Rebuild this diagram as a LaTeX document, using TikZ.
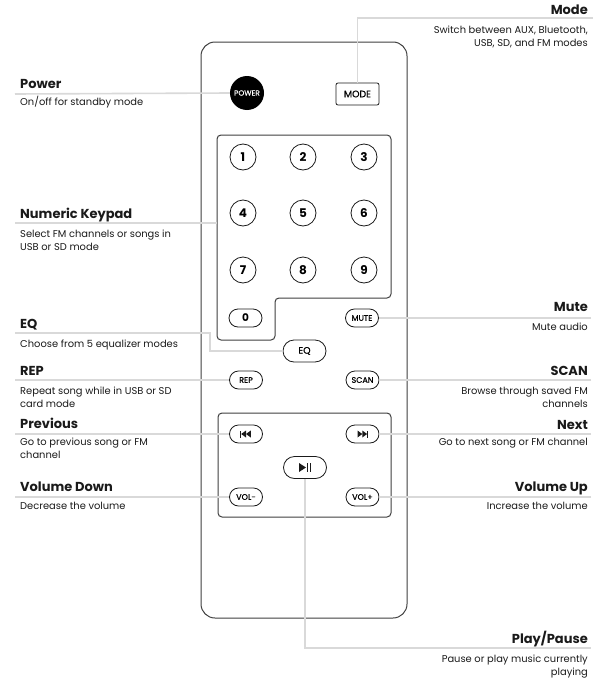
\documentclass[tikz,border=0pt]{standalone}
\usepackage{fontspec}
\setmainfont{Poppins}
\newfontfamily\keyfont[FakeBold=.6]{Poppins}
\usetikzlibrary{shapes.misc}
\usepackage{xcolor}
\definecolor{Ink}{HTML}{1A1A1A}
\definecolor{Leader}{HTML}{D9D9D9}
\definecolor{Shell}{HTML}{404040}

\begin{document}
\begin{tikzpicture}[x=1pt,y=-1pt,
    leader/.style={draw=Leader,line width=1.6pt},
    shell/.style={draw=Shell,line width=1pt,rounded corners=14pt},
    panel/.style={draw=Shell,line width=1pt,rounded corners=4pt},
    roundkey/.style={circle,draw=Ink,line width=.8pt,fill=white,minimum size=26pt,inner sep=0pt,font=\fontsize{12}{12}\selectfont\bfseries},
    pillkey/.style={rounded rectangle,draw=Ink,line width=.8pt,fill=white,minimum width=33pt,minimum height=18pt,inner sep=0pt,font=\fontsize{8}{8}\keyfont},
    titletext/.style={inner sep=0pt,font=\fontsize{13}{14}\selectfont\bfseries,text=Ink},
    desctext/.style={inner sep=0pt,font=\fontsize{9.9}{13}\selectfont,text=Ink},
    leftside/.style={anchor=north west,align=left},
    rightside/.style={anchor=north east,align=right}]
    \useasboundingbox (0,0) rectangle (593,680);
    \fill[white] (0,0) rectangle (593,680);

    \draw[shell] (201,42) rectangle (407,618);
    \draw[panel] (217,135) -- (391,135) -- (391,298) -- (275,298) -- (275,340) -- (217,340) -- cycle;
    \node[panel,minimum width=173pt,minimum height=104pt,inner sep=0pt] (transport) at (304.5,465) {};

    \node[circle,fill=black,text=white,minimum size=34pt,inner sep=0pt,font=\fontsize{7.4}{7.4}\keyfont] (power) at (247,93) {POWER};
    \node[draw=Ink,line width=.8pt,rounded corners=2pt,minimum width=43pt,minimum height=22pt,inner sep=0pt,font=\fontsize{9.4}{9.4}\keyfont] (mode) at (357.5,94) {MODE};

    \node[roundkey] (key1) at (243,157) {1};
    \node[roundkey] (key2) at (303,157) {2};
    \node[roundkey] (key3) at (364,157) {3};
    \node[roundkey] (key4) at (243,213) {4};
    \node[roundkey] (key5) at (303,213) {5};
    \node[roundkey] (key6) at (364,213) {6};
    \node[roundkey] (key7) at (243,270) {7};
    \node[roundkey] (key8) at (303,270) {8};
    \node[roundkey] (key9) at (364,270) {9};
    \node[pillkey,font=\fontsize{10.5}{10.5}\selectfont\bfseries] (key0) at (245.5,318) {0};

    \node[pillkey] (mute) at (362,318) {MUTE};
    \node[pillkey,minimum width=43pt,minimum height=22pt,font=\fontsize{9.4}{9.4}\keyfont] (eq) at (304.5,351) {EQ};
    \node[pillkey] (rep) at (246,380) {REP};
    \node[pillkey] (scan) at (362.5,380) {SCAN};
    \node[pillkey] (prev) at (246,434) {};
    \node[pillkey] (next) at (362.5,434) {};
    \node[pillkey,minimum width=43pt,minimum height=22pt] (play) at (305,467.5) {};
    \node[pillkey] (voldown) at (246,497) {VOL-};
    \node[pillkey] (volup) at (362.5,497) {VOL+};

    \fill[Ink] (240,430.5) rectangle (241.2,437.5);
    \fill[Ink] (241.2,434) -- (246,430.5) -- (246,437.5) -- cycle;
    \fill[Ink] (246,434) -- (250.8,430.5) -- (250.8,437.5) -- cycle;
    \fill[Ink] (357.5,430.5) -- (362.3,434) -- (357.5,437.5) -- cycle;
    \fill[Ink] (362.3,430.5) -- (367.1,434) -- (362.3,437.5) -- cycle;
    \fill[Ink] (367.1,430.5) rectangle (368.3,437.5);
    \fill[Ink] (299,463) -- (306,467.5) -- (299,472) -- cycle;
    \fill[Ink] (307,463) rectangle (308.4,472);
    \fill[Ink] (309.8,463) rectangle (311.2,472);

    \coordinate (powerend) at (15,94);
    \coordinate (keypadend) at (15,223);
    \coordinate (keypadedge) at (217,223);
    \coordinate (eqend) at (15,333);
    \coordinate (eqbend) at (210,333);
    \coordinate (eqdrop) at (210,351);
    \coordinate (repend) at (15,380);
    \coordinate (prevend) at (15,434);
    \coordinate (voldownend) at (15,497);
    \coordinate (modeend) at (593,18);
    \coordinate (modebend) at (357.5,18);
    \coordinate (muteend) at (591,318);
    \coordinate (scanend) at (591,380);
    \coordinate (nextend) at (591,434);
    \coordinate (volupend) at (591,497);
    \coordinate (playend) at (591,648);
    \coordinate (playbend) at (305,648);

    \draw[leader] (powerend) -- (power.west);
    \draw[leader] (keypadend) -- (keypadedge);
    \draw[leader] (eqend) -- (eqbend) -- (eqdrop) -- (eq.west);
    \draw[leader] (repend) -- (rep.west);
    \draw[leader] (prevend) -- (prev.west);
    \draw[leader] (voldownend) -- (voldown.west);
    \draw[leader] (modeend) -- (modebend) -- (mode.north);
    \draw[leader] (muteend) -- (mute.east);
    \draw[leader] (scanend) -- (scan.east);
    \draw[leader] (nextend) -- (next.east);
    \draw[leader] (volupend) -- (volup.east);
    \draw[leader] (play.south) -- (playbend) -- (playend);

    \node[titletext,leftside] (powertitle) at (20,79) {Power};
    \node[desctext,leftside] (powerdesc) at (20,96) {On/off for standby mode};
    \node[titletext,leftside] (keypadtitle) at (20,208) {Numeric Keypad};
    \node[desctext,leftside] (keypaddesc) at (20,230) {Select FM channels or songs in\\USB or SD mode};
    \node[titletext,leftside] (eqtitle) at (20,319) {EQ};
    \node[desctext,leftside] (eqdesc) at (20,340) {Choose from 5 equalizer modes};
    \node[titletext,leftside] (reptitle) at (20,366) {REP};
    \node[desctext,leftside] (repdesc) at (20,387) {Repeat song while in USB or SD\\card mode};
    \node[titletext,leftside] (prevtitle) at (20,418) {Previous};
    \node[desctext,leftside] (prevdesc) at (20,438) {Go to previous song or FM\\channel};
    \node[titletext,leftside] (voldowntitle) at (20,482) {Volume Down};
    \node[desctext,leftside] (voldowndesc) at (20,502) {Decrease the volume};

    \node[titletext,rightside] (modetitle) at (588,5) {Mode};
    \node[desctext,rightside] (modedesc) at (588,26) {Switch between AUX, Bluetooth,\\USB, SD, and FM modes};
    \node[titletext,rightside] (mutetitle) at (588,302) {Mute};
    \node[desctext,rightside] (mutedesc) at (588,323) {Mute audio};
    \node[titletext,rightside] (scantitle) at (588,366) {SCAN};
    \node[desctext,rightside] (scandesc) at (588,387) {Browse through saved FM\\channels};
    \node[titletext,rightside] (nexttitle) at (588,420) {Next};
    \node[desctext,rightside] (nextdesc) at (588,438) {Go to next song or FM channel};
    \node[titletext,rightside] (voluptitle) at (588,482) {Volume Up};
    \node[desctext,rightside] (volupdesc) at (588,502) {Increase the volume};
    \node[titletext,rightside] (playtitle) at (588,631) {Play/Pause};
    \node[desctext,rightside] (playdesc) at (588,655) {Pause or play music currently\\playing};
\end{tikzpicture}
\end{document}
